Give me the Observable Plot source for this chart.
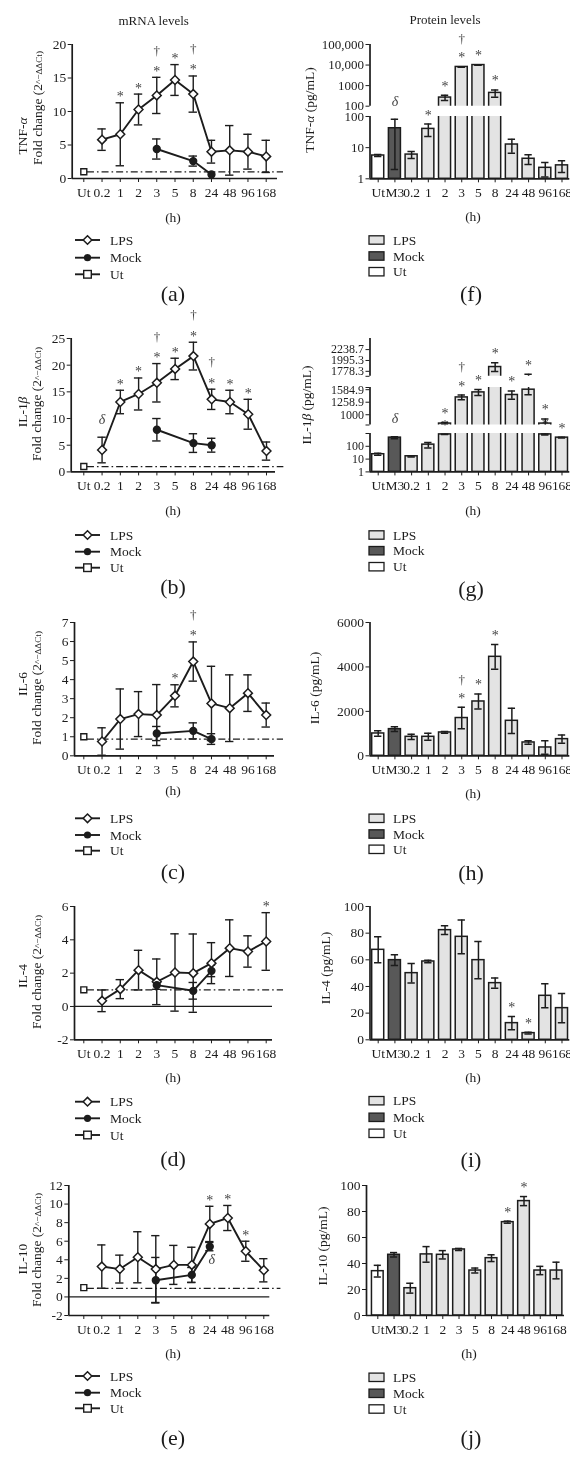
<!DOCTYPE html>
<html><head><meta charset="utf-8">
<script src="https://cdn.jsdelivr.net/npm/d3@7"></script>
<script src="https://cdn.jsdelivr.net/npm/@observablehq/plot@0.6"></script>
<style>
html,body{margin:0;padding:0;background:#fff}
#root{position:relative;width:584px;height:1462px;overflow:hidden;background:#fff;filter:grayscale(1)}
#root svg text{font-family:'Liberation Serif','Times New Roman',serif}
</style></head>
<body><div id="root"></div>
<script>
// ---------------- categories ----------------
const timeLabels = ["Ut","0.2","1","2","3","5","8","24","48","96","168"];
const lpsTimes = ["0.2","1","2","3","5","8","24","48","96","168"];
const mockTimes = ["3","8","24"];
const barLabels = ["Ut","M3","0.2","1","2","3","5","8","24","48","96","168"];
const groupNames = ["LPS","Mock","Ut"];

// ---------------- mRNA fold change (mean, SD) ----------------
const tnfMrnaLps = [5.8, 6.6, 10.3, 12.4, 14.7, 12.6, 4.0, 4.2, 4.0, 3.3];
const tnfMrnaLpsErr = [1.6, 4.7, 2.3, 2.7, 2.3, 2.7, 1.7, 3.7, 2.6, 2.4];
const tnfMrnaMock = [4.4, 2.6, 0.6];
const tnfMrnaMockErr = [1.5, 0.75, 0];

const il1bMrnaLps = [4.1, 13.1, 14.6, 16.7, 19.3, 21.7, 13.6, 13.1, 10.8, 3.9];
const il1bMrnaLpsErr = [2.4, 2.2, 3.0, 3.6, 2.0, 2.6, 1.9, 2.2, 2.8, 1.7];
const il1bMrnaMock = [7.9, 5.4, 5.0];
const il1bMrnaMockErr = [2.1, 1.75, 1.3];

const il6MrnaLps = [0.75, 1.93, 2.19, 2.14, 3.15, 4.95, 2.75, 2.5, 3.29, 2.14];
const il6MrnaLpsErr = [0.72, 1.58, 1.18, 1.6, 0.58, 1.03, 1.95, 1.75, 0.96, 0.63];
const il6MrnaMock = [1.17, 1.31, 0.88];
const il6MrnaMockErr = [0.37, 0.42, 0.28];

const il4MrnaLps = [0.34, 1.04, 2.18, 1.48, 2.04, 2.0, 2.6, 3.5, 3.3, 3.9];
const il4MrnaLpsErr = [0.65, 0.57, 1.19, 1.37, 2.32, 2.35, 1.23, 1.7, 0.94, 1.73];
const il4MrnaMock = [1.28, 0.94, 2.14];
const il4MrnaMockErr = [0.25, 0.5, 0.35];

const il10MrnaLps = [3.27, 3.0, 4.27, 3.0, 3.45, 3.45, 7.86, 8.5, 4.92, 2.87];
const il10MrnaLpsErr = [2.33, 1.5, 2.75, 3.6, 2.1, 1.9, 1.9, 1.35, 1.08, 1.25];
const il10MrnaMock = [1.8, 2.37, 5.42];
const il10MrnaMockErr = [2.45, 0.8, 0.45];

const utFold = 1;

// ---------------- protein levels (pg/mL, mean, SD) ----------------
const tnfProt = [5.6, 42, 6.0, 40, 263, 8100, 10000, 443, 12.6, 4.4, 2.25, 2.7];
const tnfProtErr = [0.4, 40, 1.5, 17, 75, 200, 200, 170, 6, 1.5, 1.1, 1.1];
const il1bProt = [24, 475, 16.6, 135, 850, 1375, 1508, 1861, 1438, 1585, 850, 475];
const il1bProtErr = [4, 90, 2, 60, 15, 60, 85, 85, 110, 140, 75, 25];
const il6Prot = [1005, 1200, 855, 855, 1050, 1700, 2445, 4455, 1575, 600, 375, 750];
const il6ProtErr = [125, 110, 120, 160, 40, 480, 340, 560, 570, 75, 300, 190];
const il4Prot = [67.5, 59.75, 50, 58.75, 82.25, 77.25, 59.75, 42.5, 12.5, 5, 33, 23.75];
const il4ProtErr = [9.75, 4, 7.3, 1, 3.3, 12.7, 14, 3.9, 5, 0.6, 9, 11];
const il10Prot = [34.1, 46.7, 21, 47, 46.7, 50.8, 34.6, 44.1, 71.8, 88, 34.6, 34.6];
const il10ProtErr = [4.5, 1.7, 3.8, 6, 3.2, 0.8, 1.9, 2.6, 0.8, 3.5, 3.2, 6.4];

// ---------------- tick labels ----------------
const tnfProtLowTicks = [1, 10, 100];
const tnfProtLowLabels = ["1", "10", "100"];
const tnfProtHighTicks = [100, 1000, 10000, 100000];
const tnfProtHighLabels = ["100", "1000", "10,000", "100,000"];
const il1bLowTicks = [1, 10, 100, 1000];
const il1bLowLabels = ["1", "10", "100", ""];
const il1bMidTicks = [828, 1000, 1258.9, 1584.9, 1650];
const il1bMidLabels = ["", "1000", "1258.9", "1584.9", ""];
const il1bTopTicks = [1687, 1778.3, 1995.3, 2238.7];
const il1bTopLabels = ["", "1778.3", "1995.3", "2238.7"];

// ---------------- style ----------------
const FONT = "'Liberation Serif','Times New Roman',serif";
const INK = "#1c1c1c";
const ANN = "#444";
const FILL = {LPS: "#dfe4e3", Mock: "#4f5a5a", Ut: "#ffffff"};
const TICK_FS = "13.5px";
const root = document.getElementById("root");

function put(node, left, top, clipW) {
  const div = document.createElement("div");
  div.style.cssText = `position:absolute;left:${left}px;top:${top}px;` + (clipW ? `width:${clipW}px;overflow:hidden;` : "");
  div.appendChild(node);
  root.appendChild(div);
}
function xGeom(g, n) {
  const step = (g.lastX - g.utX) / (n - 1);
  return [-(g.utX - g.axisX) / step, (n - 1) + (g.endX - g.lastX) / step];
}

// ---------------- line panels (mRNA) ----------------
function linePanel(p) {
  const xd = xGeom(p, timeLabels.length);
  const mt = 34, mb = 30, W = 290;
  const H = (p.yBot - p.yTop) + mt + mb;
  const idx = t => timeLabels.indexOf(t);
  const lps = lpsTimes.map((t, i) => ({x: idx(t), t, v: p.lps[i], e: p.lpsErr[i]}));
  const mock = mockTimes.map((t, i) => ({x: idx(t), t, v: p.mock[i], e: p.mockErr[i]}));
  const ut = [{x: idx("Ut"), v: utFold}];
  const withErr = lps.concat(mock).filter(d => d.e > 0);
  const cap = 0.23;
  const pick = (list, src) => src.filter(d => (list || []).includes(d.t));
  const marks = [
    Plot.ruleY([p.ref], {x1: 0.2, x2: 10.95, stroke: INK, strokeWidth: 1.3, strokeDasharray: "7,3,1.6,3"}),
    Plot.ruleX([xd[0]], {stroke: INK, strokeWidth: 1.7}),
    Plot.ruleY([p.yDomain[0]], {stroke: INK, strokeWidth: 1.7})
  ];
  if (p.zero) marks.push(Plot.ruleY([0], {stroke: INK, strokeWidth: 1.3}));
  marks.push(
    Plot.ruleX(withErr, {x: "x", y1: d => d.v - d.e, y2: d => d.v + d.e, stroke: INK, strokeWidth: 1.4}),
    Plot.ruleY(withErr, {y: d => d.v + d.e, x1: d => d.x - cap, x2: d => d.x + cap, stroke: INK, strokeWidth: 1.4}),
    Plot.ruleY(withErr, {y: d => d.v - d.e, x1: d => d.x - cap, x2: d => d.x + cap, stroke: INK, strokeWidth: 1.4}),
    Plot.line(lps, {x: "x", y: "v", stroke: INK, strokeWidth: 1.9}),
    Plot.line(mock, {x: "x", y: "v", stroke: INK, strokeWidth: 1.9}),
    Plot.dot(lps, {x: "x", y: "v", symbol: "diamond2", r: 4.0, fill: "white", stroke: INK, strokeWidth: 1.5}),
    Plot.dot(mock, {x: "x", y: "v", r: 3.4, fill: INK, stroke: INK}),
    Plot.dot(ut, {x: "x", y: "v", symbol: "square2", r: 3.8, fill: "white", stroke: INK, strokeWidth: 1.4}),
    Plot.text(pick(p.stars, lps), {x: "x", y: d => d.v + d.e, text: () => "*", dy: -6, fontSize: 14, fill: ANN}),
    Plot.text(pick(p.daggers, lps), {x: "x", y: d => d.v + d.e, text: () => "†", dy: -27, fontSize: 13, fill: ANN}),
    Plot.text(pick(p.deltas, lps), {x: "x", y: d => d.v + d.e, text: () => "δ", dy: -18, fontSize: 14, fontStyle: "italic", fill: ANN}),
    Plot.text(pick(p.mockDeltas, mock), {x: "x", y: d => d.v - d.e, text: () => "δ", dy: 9, dx: 2, fontSize: 14, fontStyle: "italic", fill: ANN})
  );
  const chart = Plot.plot({
    width: W, height: H, marginLeft: p.axisX, marginRight: W - p.endX, marginTop: mt, marginBottom: mb,
    style: {fontFamily: FONT, fontSize: TICK_FS, color: INK, background: "transparent", overflow: "visible"},
    x: {domain: xd, ticks: d3.range(timeLabels.length), tickFormat: i => timeLabels[i], tickSize: 4, tickPadding: 5, label: null},
    y: {domain: p.yDomain, ticks: p.yTicks, tickFormat: d => String(d), tickSize: 4, tickPadding: 2, label: null},
    marks
  });
  put(chart, 0, p.yTop - mt);
}

// ---------------- bar panels (protein) ----------------
function barPanel(p) {
  const n = barLabels.length;
  const xd = xGeom(p, n);
  const data = barLabels.map((t, i) => ({i, t, v: p.vals[i], e: p.errs[i],
    g: t === "Ut" ? "Ut" : t === "M3" ? "Mock" : "LPS"}));
  const half = 0.36, cap = 0.22;
  const left = 290, W = p.svgW;
  const pick = (list, src) => src.filter(d => (list || []).includes(d.t));
  p.segments.forEach((s, k) => {
    const bottom = k === 0;
    const mt = s.mt, mb = bottom ? 30 : 9;
    const H = (s.botPx - s.topPx) + mt + mb;
    const inSeg = d => d.v + d.e >= s.domain[0] && d.v + d.e < s.domain[1];
    const bars = data.filter(d => d.v > s.domain[0]);
    const errs = data.filter(d => d.e > 0);
    const marks = [];
    for (const g of groupNames)
      marks.push(Plot.rectY(bars.filter(d => d.g === g), {x1: d => d.i - half, x2: d => d.i + half, y1: s.base, y2: "v",
        fill: FILL[g], stroke: INK, strokeWidth: 1.5, clip: true}));
    marks.push(
      Plot.ruleX(errs, {x: "i", y1: d => Math.max(d.v - d.e, s.base), y2: d => d.v + d.e, stroke: INK, strokeWidth: 1.5, clip: true}),
      Plot.ruleY(errs, {y: d => d.v + d.e, x1: d => d.i - cap, x2: d => d.i + cap, stroke: INK, strokeWidth: 1.5, clip: true}),
      Plot.ruleY(errs.filter(d => d.v - d.e > 0), {y: d => d.v - d.e, x1: d => d.i - cap, x2: d => d.i + cap, stroke: INK, strokeWidth: 1.5, clip: true}),
      Plot.ruleX([xd[0]], {stroke: INK, strokeWidth: 1.7})
    );
    if (bottom) marks.push(Plot.ruleY([s.domain[0]], {stroke: INK, strokeWidth: 1.7}));
    const seg = data.filter(inSeg);
    marks.push(
      Plot.text(pick(p.stars, seg), {x: "i", y: d => d.v + d.e, text: () => "*", dy: -9, fontSize: 14, fill: ANN}),
      Plot.text(pick(p.daggers, seg), {x: "i", y: d => d.v + d.e, text: () => "†", dy: -28, fontSize: 13, fill: ANN}),
      Plot.text(pick(p.deltas, seg), {x: "i", y: d => d.v + d.e, text: () => "δ", dy: -18, fontSize: 14, fontStyle: "italic", fill: ANN})
    );
    const lab = new Map(s.ticks.map((t, j) => [t, s.labels ? s.labels[j] : String(t)]));
    const chart = Plot.plot({
      width: W, height: H, marginLeft: p.axisX - left, marginRight: left + W - p.endX, marginTop: mt, marginBottom: mb,
      style: {fontFamily: FONT, fontSize: s.fs || TICK_FS, color: INK, background: "transparent", overflow: "hidden"},
      x: bottom
        ? {domain: xd, ticks: d3.range(n), tickFormat: i => barLabels[i], tickSize: 4, tickPadding: 5, label: null}
        : {domain: xd, axis: null},
      y: {type: s.type, domain: s.domain, ticks: s.ticks, tickFormat: d => lab.has(d) ? lab.get(d) : "", tickSize: 4, tickPadding: 2, label: null},
      marks
    });
    if (bottom && s.fs) chart.querySelectorAll("g[aria-label='x-axis tick label'] text, g[aria-label='x-axis'] text").forEach(t => t.style.fontSize = TICK_FS);
    put(chart, left, s.topPx - mt, W);
  });
}

// ---------------- left column ----------------
linePanel({lps: tnfMrnaLps, lpsErr: tnfMrnaLpsErr, mock: tnfMrnaMock, mockErr: tnfMrnaMockErr, ref: 1,
  yDomain: [0, 20], yTicks: [0, 5, 10, 15, 20], yTop: 44.3, yBot: 178.3,
  axisX: 71.7, endX: 277, utX: 83.3, lastX: 265.7,
  stars: ["1","2","3","5","8"], daggers: ["3","8"]});
linePanel({lps: il1bMrnaLps, lpsErr: il1bMrnaLpsErr, mock: il1bMrnaMock, mockErr: il1bMrnaMockErr, ref: 1,
  yDomain: [0, 25], yTicks: [0, 5, 10, 15, 20, 25], yTop: 338.3, yBot: 471.7,
  axisX: 70.7, endX: 275, utX: 83.3, lastX: 266,
  stars: ["1","2","3","5","8","24","48","96"], daggers: ["3","8","24"], deltas: ["0.2"]});
linePanel({lps: il6MrnaLps, lpsErr: il6MrnaLpsErr, mock: il6MrnaMock, mockErr: il6MrnaMockErr, ref: 0.88,
  yDomain: [0, 7], yTicks: [0, 1, 2, 3, 4, 5, 6, 7], yTop: 621.7, yBot: 755,
  axisX: 74, endX: 274, utX: 83.3, lastX: 265.7,
  stars: ["5","8"], daggers: ["8"]});
linePanel({lps: il4MrnaLps, lpsErr: il4MrnaLpsErr, mock: il4MrnaMock, mockErr: il4MrnaMockErr, ref: 1, zero: true,
  yDomain: [-2, 6], yTicks: [-2, 0, 2, 4, 6], yTop: 905.7, yBot: 1039,
  axisX: 74, endX: 272, utX: 83.3, lastX: 265.7,
  stars: ["168"]});
linePanel({lps: il10MrnaLps, lpsErr: il10MrnaLpsErr, mock: il10MrnaMock, mockErr: il10MrnaMockErr, ref: 0.93, zero: true,
  yDomain: [-2, 12], yTicks: [-2, 0, 2, 4, 6, 8, 10, 12], yTop: 1185, yBot: 1315,
  axisX: 68.3, endX: 269.3, utX: 83.3, lastX: 263.3,
  stars: ["24","48","96"], mockDeltas: ["24"]});

// ---------------- right column ----------------
const rightGeom = {axisX: 369.5, endX: 569.3, utX: 377.7, lastX: 561.5, svgW: 280};
barPanel({...rightGeom, vals: tnfProt, errs: tnfProtErr,
  stars: ["1","2","3","5","8"], daggers: ["3"], deltas: ["M3"],
  segments: [
    {type: "log", domain: [1, 100], botPx: 178.3, topPx: 116, base: 1, ticks: tnfProtLowTicks, labels: tnfProtLowLabels, mt: 24, fs: "13px"},
    {type: "log", domain: [100, 100000], botPx: 106, topPx: 44.3, base: 10, ticks: tnfProtHighTicks, labels: tnfProtHighLabels, mt: 22, fs: "13px"}
  ]});
barPanel({...rightGeom, vals: il1bProt, errs: il1bProtErr,
  stars: ["2","3","5","8","24","48","96","168"], daggers: ["3"], deltas: ["M3"],
  segments: [
    {type: "log", domain: [1, 1000], botPx: 471.7, topPx: 433.3, base: 1, ticks: il1bLowTicks, labels: il1bLowLabels, mt: 26, fs: "12px"},
    {type: "log", domain: [828, 1650], botPx: 424.3, topPx: 386.8, base: 100, ticks: il1bMidTicks, labels: il1bMidLabels, mt: 28, fs: "12px"},
    {type: "log", domain: [1687, 2518], botPx: 375.9, topPx: 338.1, base: 1000, ticks: il1bTopTicks, labels: il1bTopLabels, mt: 10, fs: "12px"}
  ]});
barPanel({...rightGeom, vals: il6Prot, errs: il6ProtErr,
  stars: ["3","5","8"], daggers: ["3"],
  segments: [{type: "linear", domain: [0, 6000], botPx: 755, topPx: 621.7, base: 0, ticks: [0, 2000, 4000, 6000], mt: 12}]});
barPanel({...rightGeom, vals: il4Prot, errs: il4ProtErr,
  stars: ["24","48"],
  segments: [{type: "linear", domain: [0, 100], botPx: 1039, topPx: 905.7, base: 0, ticks: [0, 20, 40, 60, 80, 100], mt: 12}]});
barPanel({axisX: 366, endX: 564, utX: 377.3, lastX: 556, svgW: 294, vals: il10Prot, errs: il10ProtErr,
  stars: ["24","48"],
  segments: [{type: "linear", domain: [0, 100], botPx: 1315, topPx: 1185, base: 0, ticks: [0, 20, 40, 60, 80, 100], mt: 14}]});

// ---------------- text overlay: titles, axis titles, legends, panel letters ----------------
const ov = d3.create("svg").attr("width", 584).attr("height", 1462)
  .style("position", "absolute").style("left", "0px").style("top", "0px")
  .style("font-family", FONT).style("pointer-events", "none").attr("fill", INK);
function label(x, y, s, size, anchor = "middle") {
  return ov.append("text").attr("x", x).attr("y", y).attr("font-size", size).attr("font-family", FONT)
    .attr("text-anchor", anchor).attr("dominant-baseline", "central").text(s);
}
label(153.7, 20, "mRNA levels", 13);
label(445, 19, "Protein levels", 13);

const leftLetters = [["(a)", 293], ["(b)", 586], ["(c)", 871], ["(d)", 1158], ["(e)", 1437]];
const rightLetters = [["(f)", 293], ["(g)", 588], ["(h)", 872], ["(i)", 1159], ["(j)", 1437]];
leftLetters.forEach(([s, y]) => label(173, y, s, 22));
rightLetters.forEach(([s, y]) => label(471, y, s, 22));
[217, 510, 790.7, 1077.3, 1353.3].forEach(y => label(173, y, "(h)", 13.5));
[216.7, 510, 793.3, 1077.3, 1353.3].forEach((y, k) => label(k === 4 ? 469 : 473, y, "(h)", 13.5));

function rotText(x, y, parts, size) {
  const t = ov.append("text").attr("transform", `translate(${x},${y}) rotate(-90)`).attr("font-family", FONT)
    .attr("font-size", size).attr("text-anchor", "middle").attr("dominant-baseline", "central");
  parts.forEach(([s, st]) => {
    const ts = t.append("tspan").text(s);
    if (st === "i") ts.attr("font-style", "italic");
    if (st === "sup") ts.attr("font-size", size * 0.68).attr("dy", 1.5);
  });
}
const mrnaNames = [[[["TNF-"], ["α", "i"]], 22, 136, 37, 108],
  [[["IL-1"], ["β", "i"]], 22, 412, 36, 404],
  [[["IL-6"]], 22, 684, 36, 688],
  [[["IL-4"]], 22, 976, 36, 972],
  [[["IL-10"]], 22, 1259, 36, 1250]];
mrnaNames.forEach(([name, x1, y1, x2, y2]) => {
  rotText(x1, y1, name, 13.5);
  rotText(x2, y2, [["Fold change (2"], ["^−ΔΔCt)", "sup"]], 13.5);
});
const protNames = [[[["TNF-"], ["α", "i"], [" (pg/mL)"]], 309, 110],
  [[["IL-1"], ["β", "i"], [" (pg/mL)"]], 306, 405],
  [[["IL-6 (pg/mL)"]], 314, 688],
  [[["IL-4 (pg/mL)"]], 325, 968],
  [[["IL-10 (pg/mL)"]], 322, 1246]];
protNames.forEach(([name, x, y]) => rotText(x, y, name, 13.5));

// legends
const leftLegendRows = [[240, 257.7, 274.3], [535, 551.7, 567.7], [818.3, 835, 850.7], [1101.7, 1118.3, 1135], [1376, 1392.7, 1408.3]];
const rightLegendRows = [[240, 256, 271.7], [535, 550.7, 566.7], [818.3, 834, 849.3], [1100.7, 1117.3, 1133.3], [1377.3, 1393.3, 1409]];
leftLegendRows.forEach(rows => rows.forEach((y, k) => {
  ov.append("line").attr("x1", 75).attr("x2", 100).attr("y1", y).attr("y2", y).attr("stroke", INK).attr("stroke-width", 1.9);
  const cx = 87.5;
  if (k === 0) ov.append("path").attr("d", `M${cx},${y - 4.3}L${cx + 4.3},${y}L${cx},${y + 4.3}L${cx - 4.3},${y}Z`)
    .attr("fill", "white").attr("stroke", INK).attr("stroke-width", 1.5);
  if (k === 1) ov.append("circle").attr("cx", cx).attr("cy", y).attr("r", 3.6).attr("fill", INK);
  if (k === 2) ov.append("rect").attr("x", cx - 3.8).attr("y", y - 3.8).attr("width", 7.6).attr("height", 7.6)
    .attr("fill", "white").attr("stroke", INK).attr("stroke-width", 1.4);
  label(110, y, groupNames[k], 13.5, "start");
}));
rightLegendRows.forEach(rows => rows.forEach((y, k) => {
  ov.append("rect").attr("x", 369).attr("y", y - 4.2).attr("width", 15).attr("height", 8.4)
    .attr("fill", FILL[groupNames[k]]).attr("stroke", INK).attr("stroke-width", 1.3);
  label(393, y, groupNames[k], 13.5, "start");
}));
root.appendChild(ov.node());
</script>
</body></html>
